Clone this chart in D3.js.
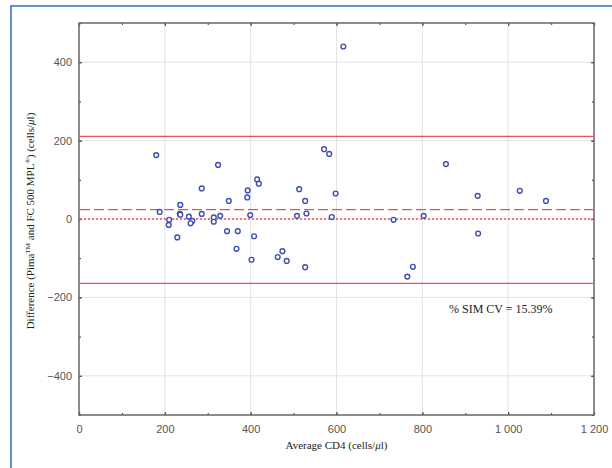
<!DOCTYPE html>
<html>
<head>
<meta charset="utf-8">
<script src="https://cdn.jsdelivr.net/npm/d3@7"></script>
<style>
  body { margin: 0; background: #fff; }
  svg { display: block; }
</style>
</head>
<body>
<div id="chart"></div>
<script>
// average CD4 and difference for each sample
const avgCD4 = [180, 188, 210, 209, 229, 236, 235, 236, 256, 264, 260, 286, 286, 314, 314, 324, 329, 345, 349, 370,
    367, 393, 392, 399, 402, 408, 415, 419, 463, 474, 484, 513, 508, 527, 530, 527, 571, 583, 598, 589,
    616, 733, 765, 778, 803, 855, 929, 930, 1027, 1088];
const diffCD4 = [163, 18, -2, -15, -47, 36, 13, 11, 6, -5, -11, 78, 13, 4, -7, 138, 8, -31, 46, -31,
    -76, 73, 55, 10, -104, -44, 101, 90, -97, -82, -107, 76, 8, 46, 14, -123, 178, 166, 65, 5,
    440, -2, -147, -122, 8, 140, 59, -37, 72, 46];
const xTicks = [0, 200, 400, 600, 800, 1000, 1200];
const yTicks = [-400, -200, 0, 200, 400];
const bias = 24;
const upperLoA = 211;
const lowerLoA = -164;
const cvLabel = "% SIM CV = 15.39%";

const w = 612;
const h = 468;
const plotLeft = 79, plotRight = 594, plotTop = 23, plotBottom = 415;

const xScale = d3.scaleLinear().domain([0, 1200]).range([plotLeft, plotRight]);
const yScale = d3.scaleLinear().domain([-500, 500]).range([plotBottom, plotTop]);

const svg = d3.select("#chart")
    .append("svg")
    .attr("width", w)
    .attr("height", h);

// blue figure border
svg.append("path")
    .attr("d", "M11," + (h + 5) + "V6H" + (w + 5))
    .attr("fill", "none")
    .attr("stroke", "#2f6fb8")
    .attr("stroke-width", 1.5);

// gridlines
svg.append("g")
    .selectAll("line")
    .data(xTicks.slice(1, -1))
    .enter()
    .append("line")
    .attr("x1", d => xScale(d)).attr("x2", d => xScale(d))
    .attr("y1", plotTop).attr("y2", plotBottom)
    .attr("stroke", "#e3e3e3");
svg.append("g")
    .selectAll("line")
    .data(yTicks)
    .enter()
    .append("line")
    .attr("x1", plotLeft).attr("x2", plotRight)
    .attr("y1", d => yScale(d)).attr("y2", d => yScale(d))
    .attr("stroke", "#e3e3e3");

// axes with inward ticks on all sides
const fmt = d => d >= 1000 ? d3.format(",")(d).replace(",", " ") : d3.format("d")(d);
const minorX = d3.range(0, 1201, 100);
const minorY = d3.range(-500, 501, 100);

svg.append("g")
    .attr("class", "axis")
    .attr("transform", "translate(0," + plotBottom + ")")
    .call(d3.axisBottom(xScale).tickValues(minorX).tickSize(-2).tickFormat(""));
svg.append("g")
    .attr("class", "axis")
    .attr("transform", "translate(0," + plotBottom + ")")
    .call(d3.axisBottom(xScale).tickValues(xTicks).tickSize(-3).tickPadding(10).tickFormat(fmt));
svg.append("g")
    .attr("class", "axis")
    .attr("transform", "translate(0," + plotTop + ")")
    .call(d3.axisTop(xScale).tickValues(minorX).tickSize(-2).tickFormat(""));
svg.append("g")
    .attr("class", "axis")
    .attr("transform", "translate(0," + plotTop + ")")
    .call(d3.axisTop(xScale).tickValues(xTicks).tickSize(-3).tickFormat(""));
svg.append("g")
    .attr("class", "axis")
    .attr("transform", "translate(" + plotLeft + ",0)")
    .call(d3.axisLeft(yScale).tickValues(minorY).tickSize(-2).tickFormat(""));
svg.append("g")
    .attr("class", "axis")
    .attr("transform", "translate(" + plotLeft + ",0)")
    .call(d3.axisLeft(yScale).tickValues(yTicks).tickSize(-3).tickPadding(7).tickFormat(fmt));
svg.append("g")
    .attr("class", "axis")
    .attr("transform", "translate(" + plotRight + ",0)")
    .call(d3.axisRight(yScale).tickValues(minorY).tickSize(-2).tickFormat(""));
svg.append("g")
    .attr("class", "axis")
    .attr("transform", "translate(" + plotRight + ",0)")
    .call(d3.axisRight(yScale).tickValues(yTicks).tickSize(-3).tickFormat(""));

svg.selectAll(".axis .domain").remove();
svg.selectAll(".axis line").attr("stroke", "#555").attr("stroke-width", 1.2);
svg.selectAll(".axis text")
    .attr("fill", "#555")
    .style("font-family", "Liberation Sans, Arial, sans-serif")
    .style("font-size", "11px");

// frame
svg.append("rect")
    .attr("x", plotLeft).attr("y", plotTop)
    .attr("width", plotRight - plotLeft).attr("height", plotBottom - plotTop)
    .attr("fill", "none")
    .attr("stroke", "#666")
    .attr("stroke-width", 1.5);

// limits of agreement, bias and zero
const refLines = [
    { v: upperLoA, dash: null },
    { v: lowerLoA, dash: null },
    { v: bias, dash: "10,4" },
    { v: 0, dash: "2,2" }
];
svg.append("g")
    .selectAll("line")
    .data(refLines)
    .enter()
    .append("line")
    .attr("x1", plotLeft + 1).attr("x2", plotRight - 1)
    .attr("y1", d => yScale(d.v)).attr("y2", d => yScale(d.v))
    .attr("stroke", "#ee5050")
    .attr("stroke-width", 1.3)
    .attr("stroke-dasharray", d => d.dash);

// points
svg.append("g")
    .selectAll("circle")
    .data(avgCD4.map((x, i) => [x, diffCD4[i]]))
    .enter()
    .append("circle")
    .attr("cx", d => xScale(d[0]))
    .attr("cy", d => yScale(d[1]))
    .attr("r", 2.4)
    .attr("fill", "#fff")
    .attr("stroke", "#4050b0")
    .attr("stroke-width", 1.4);

svg.append("text")
    .attr("x", 449)
    .attr("y", 313)
    .style("font-family", "Liberation Serif, Times New Roman, serif")
    .style("font-size", "12px")
    .attr("fill", "#222")
    .text(cvLabel);

// text label for the x axis
svg.append("text")
    .attr("x", (plotLeft + plotRight) / 2)
    .attr("y", 449)
    .style("text-anchor", "middle")
    .style("font-family", "Liberation Serif, Times New Roman, serif")
    .style("font-size", "11px")
    .attr("fill", "#222")
    .html("Average CD4 (cells/<tspan font-style='italic'>μ</tspan>l)");

// text label for the y axis
svg.append("text")
    .attr("transform", "translate(34," + ((plotTop + plotBottom) / 2 + 2) + ") rotate(-90)")
    .style("text-anchor", "middle")
    .style("font-family", "Liberation Serif, Times New Roman, serif")
    .style("font-size", "11px")
    .attr("fill", "#222")
    .html("Difference (Pima<tspan font-size='7px' dy='-4'>TM</tspan><tspan dy='4'> and FC 500 MPL</tspan><tspan font-size='7px' dy='-4'>®</tspan><tspan dy='4'>) (cells/</tspan><tspan font-style='italic'>μ</tspan>l)");
</script>
</body>
</html>
